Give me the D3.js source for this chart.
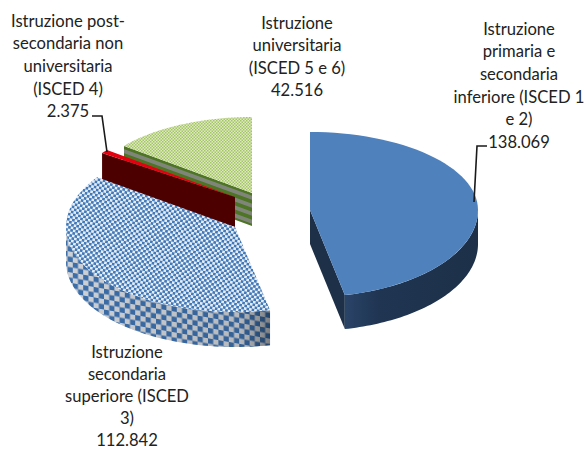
<!DOCTYPE html>
<html>
<head>
<meta charset="utf-8">
<script src="https://cdn.jsdelivr.net/npm/d3@7"></script>
<style>
  html, body { margin: 0; padding: 0; background: #fff; }
  svg { display: block; }
  text { font-family: Lato, "Open Sans", sans-serif; font-size: 16.6px; fill: #222; text-anchor: middle; }
</style>
</head>
<body>
<svg id="chart" width="586" height="450"></svg>
<script>
// Population by education level, drawn as an exploded 3D pie.
const categories = ["primaria", "superiore", "postsecondaria", "universitaria"];
const values = [138069, 112842, 2375, 42516];
const labelLines = [
  ["Istruzione", "primaria e", "secondaria", "inferiore (ISCED 1", "e 2)"],
  ["Istruzione", "secondaria", "superiore (ISCED", "3)"],
  ["Istruzione post-", "secondaria non", "universitaria", "(ISCED 4)"],
  ["Istruzione", "universitaria", "(ISCED 5 e 6)"]
];

// Each wedge has its own exploded centre and projected radii.
const wedgeLayout = {
  primaria:       { cx: 310, cy: 210, rx: 168, ryBack: 78, ryFront: 87, depth: 34 },
  superiore:      { cx: 235, cy: 227, rx: 169, ryBack: 86, ryFront: 85, depth: 35 },
  postsecondaria: { cx: 235, cy: 197, rx: 163, ryBack: 76, ryFront: 76, depth: 30 },
  universitaria:  { cx: 252, cy: 193, rx: 163, ryBack: 76, ryFront: 76, depth: 33 }
};
const labelLayout = {
  primaria:       { x: 519, y: 29,  step: 22.6 },
  superiore:      { x: 127, y: 352, step: 22 },
  postsecondaria: { x: 68,  y: 21,  step: 22.6 },
  universitaria:  { x: 297, y: 23,  step: 22.4 }
};
const leaderLayout = {
  primaria:       [[474, 202], [477, 146], [487, 146]],
  postsecondaria: [[107, 152], [102, 116], [92, 116]]
};

const svg = d3.select("#chart");
const defs = svg.append("defs");

function checker(id, size, bg, fg, transform) {
  const p = defs.append("pattern").attr("id", id).attr("patternUnits", "userSpaceOnUse")
    .attr("width", size * 2).attr("height", size * 2).attr("patternTransform", transform || null);
  p.append("rect").attr("width", size * 2).attr("height", size * 2).attr("fill", bg);
  p.append("rect").attr("width", size).attr("height", size).attr("fill", fg);
  p.append("rect").attr("x", size).attr("y", size).attr("width", size).attr("height", size).attr("fill", fg);
}
checker("blueTop", 2.6, "#e6edf6", "#4078b8", "rotate(10)");
checker("blueWall", 5.2, "#d9dde2", "#3f74b3", "skewY(10)");
checker("greenTop", 1.5, "#dfeac2", "#a3c566", null);

const stripes = defs.append("pattern").attr("id", "greenWall").attr("patternUnits", "userSpaceOnUse")
  .attr("width", 8).attr("height", 8).attr("patternTransform", "skewY(20)");
stripes.append("rect").attr("width", 8).attr("height", 8).attr("fill", "#7f8679");
stripes.append("rect").attr("y", 4).attr("width", 8).attr("height", 4).attr("fill", "#4e7526");

const shade = defs.append("linearGradient").attr("id", "wallShade");
shade.append("stop").attr("offset", "0").attr("stop-color", "#000").attr("stop-opacity", 0.05);
shade.append("stop").attr("offset", "0.85").attr("stop-color", "#000").attr("stop-opacity", 0.16);
shade.append("stop").attr("offset", "1").attr("stop-color", "#000").attr("stop-opacity", 0.42);

const blueShade = defs.append("linearGradient").attr("id", "blueWallFill");
blueShade.append("stop").attr("offset", "0").attr("stop-color", "#2a4468");
blueShade.append("stop").attr("offset", "0.25").attr("stop-color", "#1f3552");
blueShade.append("stop").attr("offset", "1").attr("stop-color", "#1d3048");

const styles = {
  primaria:       { top: "#4f81bd", wall: "url(#blueWallFill)", radial: "#1d3048", radialAt: "end" },
  superiore:      { top: "url(#blueTop)", wall: "url(#blueWall)", overlay: "url(#wallShade)" },
  postsecondaria: { top: "#e3000f", radial: "#4d0000", radialAt: "start" },
  universitaria:  { top: "url(#greenTop)", radial: "url(#greenWall)", radialAt: "start" }
};

const pie = d3.pie().sort(null).value(d => d.value);
const arcs = pie(categories.map((key, i) => ({ key, value: values[i], lines: labelLines[i] })));

// Projects a pie angle (clockwise from twelve o'clock) onto the tilted plane.
function project(g, angle, drop) {
  const c = Math.cos(angle);
  return [g.cx + g.rx * Math.sin(angle), g.cy - (c > 0 ? g.ryBack : g.ryFront) * c + drop];
}
const sampleAngles = (a0, a1) => d3.range(0, 61).map(i => a0 + (a1 - a0) * i / 60);
const outline = d3.line();

const wedgeOrder = ["universitaria", "postsecondaria", "superiore", "primaria"];
const plot = svg.append("g");

wedgeOrder.forEach(key => {
  const arc = arcs.find(a => a.data.key === key);
  const g = wedgeLayout[key];
  const s = styles[key];
  const grp = plot.append("g");

  // Radial cut face
  if (s.radial) {
    const a = s.radialAt === "start" ? arc.startAngle : arc.endAngle;
    const rim = project(g, a, 0), rimLow = project(g, a, g.depth);
    grp.append("path")
      .attr("d", outline([[g.cx, g.cy], rim, rimLow, [g.cx, g.cy + g.depth]]) + "Z")
      .attr("fill", s.radial);
  }

  // Outer rim, only the part facing the viewer
  const w0 = Math.max(arc.startAngle, Math.PI / 2), w1 = Math.min(arc.endAngle, 3 * Math.PI / 2);
  if (s.wall && w1 > w0) {
    const along = sampleAngles(w0, w1);
    const band = along.map(a => project(g, a, 0)).concat(along.slice().reverse().map(a => project(g, a, g.depth)));
    grp.append("path").attr("d", outline(band) + "Z").attr("fill", s.wall);
    if (s.overlay) grp.append("path").attr("d", outline(band) + "Z").attr("fill", s.overlay);
  }

  // Top face
  const face = [[g.cx, g.cy]].concat(sampleAngles(arc.startAngle, arc.endAngle).map(a => project(g, a, 0)));
  grp.append("path").attr("d", outline(face) + "Z").attr("fill", s.top);
});

// Leader lines
const leaders = svg.append("g");
Object.values(leaderLayout).forEach(pts => {
  leaders.append("path").attr("d", outline(pts)).attr("fill", "none").attr("stroke", "#1a1a1a").attr("stroke-width", 1.6);
});

// Labels: wrapped category name followed by the value
const fmt = d3.formatLocale({ decimal: ",", thousands: ".", grouping: [3], currency: ["", ""] }).format(",d");
const labels = svg.append("g");
arcs.forEach(arc => {
  const l = labelLayout[arc.data.key];
  arc.data.lines.concat(fmt(arc.data.value)).forEach((line, i) => {
    labels.append("text").attr("x", l.x).attr("y", l.y + i * l.step).attr("dy", "0.35em").text(line);
  });
});
</script>
</body>
</html>
